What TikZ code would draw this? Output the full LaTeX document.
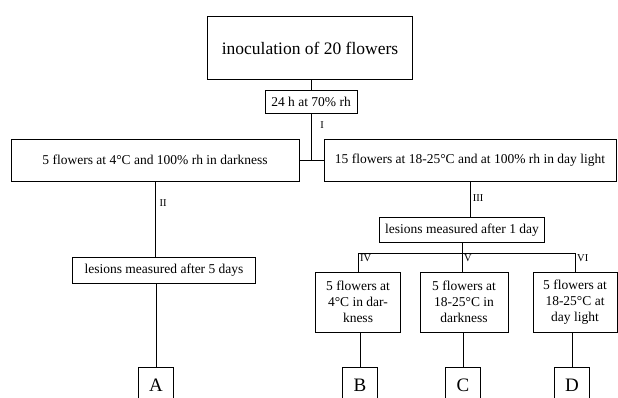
\documentclass[tikz,border=0pt]{standalone}
\usepackage{fontspec}
\setmainfont{Liberation Serif}
\begin{document}
\begin{tikzpicture}[x=1pt,y=-1pt,
    flowBox/.style={draw,line width=0.8pt,inner sep=2pt,align=center,font=\fontsize{13.5}{16}\selectfont},
    flowLine/.style={line width=0.8pt},
    stepLbl/.style={inner sep=1pt,font=\fontsize{10.5}{12}\selectfont},
    letterBox/.style={flowBox,minimum width=35,minimum height=36,font=\fontsize{19}{22}\selectfont},
]
\clip (0,0) rectangle (618,397);
\fill[white] (0,0) rectangle (618,397);
% Inoculation and incubation
\node[flowBox,minimum width=205,minimum height=63,font=\fontsize{17.5}{20}\selectfont] (inoc) at (310,48) {inoculation of 20 flowers};
\node[flowBox,minimum width=92,minimum height=23] (incub) at (311,102) {24 h at 70\% rh};
\draw[flowLine] (incub.north |- inoc.south) -- (incub.north);
% Split into two groups
\node[flowBox,minimum width=288,minimum height=42] (cold) at (155,160) {5 flowers at 4°C and 100\% rh in darkness};
\node[flowBox,minimum width=292,minimum height=42] (warm) at (470,160) {15 flowers at 18-25°C and at 100\% rh in day light};
\coordinate (split) at (incub.south |- cold.east);
\draw[flowLine] (incub.south) -- (split);
\draw[flowLine] (cold.east) -- (warm.west);
\node[stepLbl] (lI) at (322,125) {I};
% Left branch
\node[flowBox,minimum width=183,minimum height=26] (lesA) at (164,270) {lesions measured after 5 days};
\draw[flowLine] (cold.south) -- (cold.south |- lesA.north);
\node[stepLbl] (lII) at (163,203) {II};
\node[letterBox] (A) at (156,385) {A};
\draw[flowLine] (A.north |- lesA.south) -- (A.north);
% Right branch
\node[flowBox,minimum width=165,minimum height=25] (lesB) at (462,230) {lesions measured after 1 day};
\draw[flowLine] (warm.south) -- (warm.south |- lesB.north);
\node[stepLbl] (lIII) at (478,198) {III};
\node[flowBox,minimum width=85,minimum height=60] (cIV) at (358,302) {5 flowers at\\4°C in dar-\\kness};
\node[flowBox,minimum width=88,minimum height=60] (cV) at (464,302) {5 flowers at\\18-25°C in\\darkness};
\node[flowBox,minimum width=84,minimum height=60] (cVI) at (575,302) {5 flowers at\\18-25°C at\\day light};
\path (lesB.south) ++(0,10.5) coordinate (fork);
\draw[flowLine] (cIV.north) |- (fork) -| (cVI.north);
\draw[flowLine] (lesB.south) -- (lesB.south |- cV.north);
\node[stepLbl,anchor=north west,xshift=1] (lIV) at (cIV.north |- fork) {IV};
\node[stepLbl,anchor=north west,xshift=1] (lV) at (lesB.south |- fork) {V};
\node[stepLbl,anchor=north west,xshift=1] (lVI) at (cVI.north |- fork) {VI};
% Final groups
\node[letterBox] (B) at (360,385) {B};
\node[letterBox] (C) at (463,385) {C};
\node[letterBox] (D) at (572,385) {D};
\draw[flowLine] (B.north |- cIV.south) -- (B.north);
\draw[flowLine] (C.north |- cV.south) -- (C.north);
\draw[flowLine] (D.north |- cVI.south) -- (D.north);
\end{tikzpicture}
\end{document}
